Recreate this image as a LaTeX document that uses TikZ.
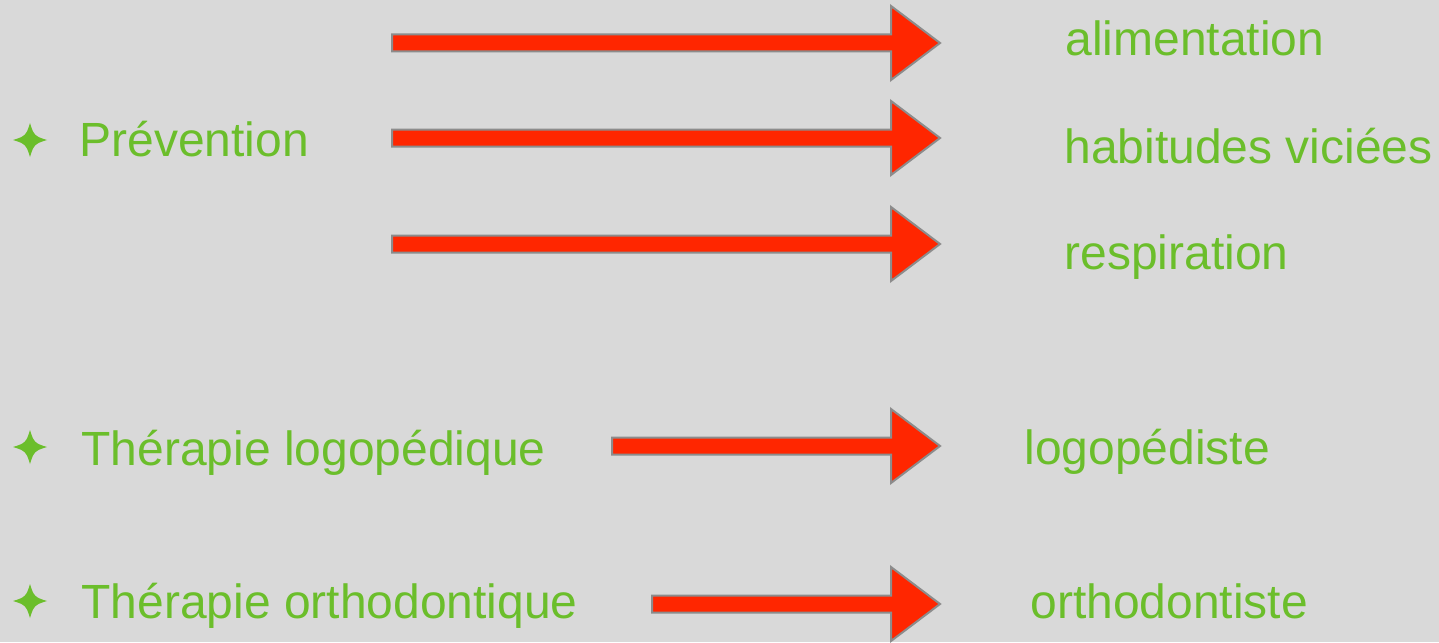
\documentclass[tikz,border=0pt]{standalone}
\usepackage{fontspec}
\setmainfont{Liberation Sans}
\usetikzlibrary{calc}

\definecolor{bggrey}{HTML}{D9D9D9}
\definecolor{textgreen}{HTML}{6BBE2B}
\definecolor{arrowred}{HTML}{FF2600}
\definecolor{arrowgrey}{HTML}{8C8C8C}

\tikzset{
  label/.style={anchor=base west, inner sep=0pt, text=textgreen,
    font=\fontsize{24}{28}\selectfont},
  bigarrow/.style={fill=arrowred, draw=arrowgrey, line width=1pt, line join=miter},
  starbullet/.pic={
    \fill[textgreen] (17,0) .. controls (5,3.5) and (3.5,5) .. (0,17)
      .. controls (-3.5,5) and (-5,3.5) .. (-17,0)
      .. controls (-5,-3.5) and (-3.5,-5) .. (0,-17)
      .. controls (3.5,-5) and (5,-3.5) .. (17,0) -- cycle;
  }
}

% block arrow from #1 to #2 (tip at #2)
\newcommand{\redarrow}[2]{%
  \path[bigarrow] let \p1=(#1), \p2=(#2) in
    (\x1,\y1+4.25pt) -- (\x2-24.5pt,\y1+4.25pt) -- (\x2-24.5pt,\y1+18.5pt)
    -- (\x2,\y1) -- (\x2-24.5pt,\y1-18.5pt) -- (\x2-24.5pt,\y1-4.25pt)
    -- (\x1,\y1-4.25pt) -- cycle;}

\begin{document}
\begin{tikzpicture}[x=0.5pt,y=-0.5pt]
\fill[bggrey] (0,0) rectangle (1439,642);
\useasboundingbox (0,0) rectangle (1439,642);

% left column
\pic (S1) at (30,140) {starbullet};
\pic (S2) at (30,447) {starbullet};
\pic (S3) at (30,601) {starbullet};
\node[label] (L1) at (79,156) {Prévention};
\node[label] (L2) at (81,465) {Thérapie logopédique};
\node[label] (L3) at (81,618) {Thérapie orthodontique};

% right column
\node[label] (R1) at (1065,56) {alimentation};
\node[label] (R2) at (1064,163) {habitudes viciées};
\node[label] (R3) at (1064,269) {respiration};
\node[label] (R4) at (1024,464) {logopédiste};
\node[label] (R5) at (1030,618) {orthodontiste};

% arrows
\coordinate (A1s) at (392,43);  \coordinate (A1e) at (940,43);
\coordinate (A2s) at (392,138); \coordinate (A2e) at (940,138);
\coordinate (A3s) at (392,244); \coordinate (A3e) at (940,244);
\coordinate (A4s) at (612,446); \coordinate (A4e) at (940,446);
\coordinate (A5s) at (652,604); \coordinate (A5e) at (940,604);
\redarrow{A1s}{A1e}
\redarrow{A2s}{A2e}
\redarrow{A3s}{A3e}
\redarrow{A4s}{A4e}
\redarrow{A5s}{A5e}
\end{tikzpicture}
\end{document}
